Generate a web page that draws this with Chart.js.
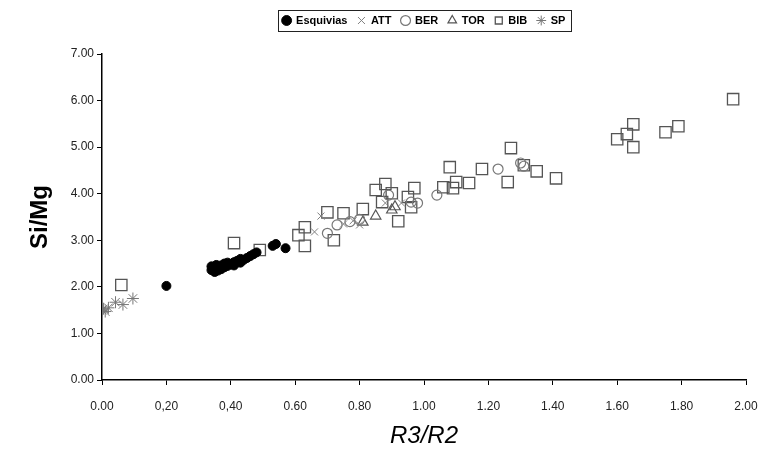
<!DOCTYPE html>
<html>
<head>
<meta charset="utf-8">
<script src="https://cdn.jsdelivr.net/npm/chart.js@4/dist/chart.umd.min.js"></script>
<style>
  body { margin: 0; background: #fff; }
  canvas { display: block; }
</style>
</head>
<body>
<canvas id="chart" width="762" height="452"></canvas>
<script>
// values
const esqX = [0.20, 0.34,0.34,0.35,0.35,0.355,0.36,0.36,0.37,0.37,0.38,0.38,0.39,0.39,0.40,0.41,0.41,0.42,0.43,0.43,0.44,0.45,0.46,0.47,0.48, 0.53,0.54,0.57];
const esqY = [2.02, 2.36,2.44,2.32,2.40,2.47,2.35,2.42,2.38,2.46,2.42,2.50,2.45,2.52,2.48,2.53,2.46,2.56,2.52,2.60,2.58,2.62,2.66,2.70,2.74, 2.88,2.92,2.83];

const attX = [0.66,0.68,0.75,0.78,0.80,0.88,0.93];
const attY = [3.18,3.52,3.35,3.42,3.33,3.80,3.80];

const berX = [0.70,0.73,0.77,0.80,0.89,0.96,0.98,1.04,1.23,1.30,1.31];
const berY = [3.15,3.33,3.40,3.45,3.97,3.82,3.80,3.97,4.53,4.66,4.59];

const torX = [0.81,0.85,0.90,0.91];
const torY = [3.39,3.52,3.65,3.72];

const bibX = [0.06,0.41,0.49,0.61,0.63,0.63,0.70,0.72,0.75,0.81,0.85,0.88,0.90,0.87,0.92,0.95,0.97,0.96,1.06,1.09,1.10,1.08,1.14,1.18,1.27,1.26,1.31,1.35,1.41,1.60,1.63,1.65,1.65,1.75,1.79,1.96];
const bibY = [2.04,2.94,2.79,3.11,3.28,2.88,3.60,3.00,3.58,3.67,4.08,4.21,4.01,3.82,3.41,3.93,4.12,3.71,4.14,4.12,4.25,4.57,4.23,4.53,4.98,4.25,4.61,4.48,4.33,5.17,5.28,5.49,5.00,5.32,5.45,6.03];

const spX = [0.00,0.01,0.005,0.02,0.042,0.065,0.096];
const spY = [1.50,1.47,1.53,1.55,1.67,1.62,1.75];

const xTickLabels = ['0.00','0,20','0,40','0.60','0.80','1.00','1.20','1.40','1.60','1.80','2.00'];
const yTickLabels = ['0.00','1.00','2.00','3.00','4.00','5.00','6.00','7.00'];

const pts = (xs, ys) => xs.map((x, i) => ({x: x, y: ys[i]}));
const FONT = 'Arial, "Liberation Sans", sans-serif';

// box around the legend items
const legendBorder = {
  id: 'legendBorder',
  afterDraw(chart) {
    const boxes = chart.legend && chart.legend.legendHitBoxes;
    if (!boxes || !boxes.length) return;
    let l = Infinity, r = -Infinity, t = Infinity, b = -Infinity;
    boxes.forEach(h => {
      l = Math.min(l, h.left); r = Math.max(r, h.left + h.width);
      t = Math.min(t, h.top); b = Math.max(b, h.top + h.height);
    });
    const ctx = chart.ctx;
    ctx.save();
    ctx.strokeStyle = '#222';
    ctx.lineWidth = 1;
    ctx.strokeRect(Math.round(l - 5) + 0.5, Math.round(t - 5) + 0.5, Math.round(r - l + 10), Math.round(b - t + 10));
    ctx.restore();
  }
};

new Chart(document.getElementById('chart'), {
  type: 'scatter',
  data: {
    datasets: [
      { label: 'Esquivias', data: pts(esqX, esqY), pointStyle: 'circle', pointRadius: 4.5,
        backgroundColor: '#000', borderColor: '#000', borderWidth: 1 },
      { label: 'ATT', data: pts(attX, attY), pointStyle: 'crossRot', pointRadius: 5,
        backgroundColor: 'rgba(0,0,0,0)', borderColor: '#808080', borderWidth: 1 },
      { label: 'BER', data: pts(berX, berY), pointStyle: 'circle', pointRadius: 5,
        backgroundColor: 'rgba(0,0,0,0)', borderColor: '#777', borderWidth: 1.2 },
      { label: 'TOR', data: pts(torX, torY), pointStyle: 'triangle', pointRadius: 6,
        backgroundColor: 'rgba(0,0,0,0)', borderColor: '#555', borderWidth: 1.2 },
      { label: 'BIB', data: pts(bibX, bibY), pointStyle: 'rect', pointRadius: 8,
        backgroundColor: 'rgba(0,0,0,0)', borderColor: '#555', borderWidth: 1.3 },
      { label: 'SP', data: pts(spX, spY), pointStyle: 'star', pointRadius: 6,
        backgroundColor: 'rgba(0,0,0,0)', borderColor: '#777', borderWidth: 1 }
    ]
  },
  options: {
    responsive: false,
    animation: false,
    layout: { padding: { top: 5, right: 16, left: 0, bottom: 0 } },
    plugins: {
      tooltip: { enabled: false },
      legend: {
        position: 'top',
        fullSize: false,
        labels: {
          usePointStyle: true,
          boxWidth: 8,
          boxHeight: 7,
          padding: 10,
          color: '#000',
          font: { family: FONT, size: 11, weight: 'bold' }
        }
      },
      subtitle: {
        display: true,
        text: '',
        weight: 500,
        padding: { top: 6, bottom: 0 },
        font: { size: 10 }
      }
    },
    scales: {
      x: {
        type: 'linear',
        min: 0, max: 2,
        afterFit(scale) {
          scale.height = 72;
          scale.paddingLeft = 0;
          scale.paddingRight = 0;
        },
        ticks: {
          stepSize: 0.2,
          padding: 14,
          color: '#222',
          font: { family: FONT, size: 12 },
          callback: (v) => xTickLabels[Math.round(v / 0.2)]
        },
        grid: { drawOnChartArea: false, drawTicks: true, tickLength: 5, color: '#000' },
        border: { color: '#000', width: 1.5 },
        title: {
          display: true,
          text: 'R3/R2',
          color: '#000',
          padding: { top: 0, bottom: 1 },
          font: { family: FONT, size: 24, style: 'italic' }
        }
      },
      y: {
        min: 0, max: 7,
        afterFit(scale) {
          scale.width = 102;
          scale.paddingTop = 0;
          scale.paddingBottom = 0;
        },
        ticks: {
          stepSize: 1,
          padding: 3,
          color: '#222',
          font: { family: FONT, size: 12 },
          callback: (v) => yTickLabels[Math.round(v)]
        },
        grid: { drawOnChartArea: false, drawTicks: true, tickLength: 5, color: '#000' },
        border: { color: '#000', width: 1.5 },
        title: {
          display: true,
          text: 'Si/Mg',
          color: '#000',
          padding: { top: 26, bottom: 0 },
          font: { family: FONT, size: 24, weight: 'bold' }
        }
      }
    }
  },
  plugins: [legendBorder]
});
</script>
</body>
</html>
